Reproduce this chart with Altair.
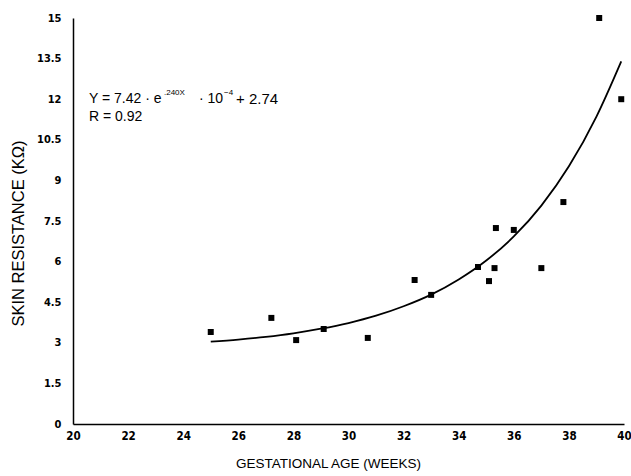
import altair as alt
import pandas as pd

# Measured data points (gestational age in weeks, skin resistance in kOhm)
weeks = [25.0, 27.2, 28.1, 29.1, 30.7, 32.4, 33.0, 34.7, 35.1, 35.3, 35.35, 36.0, 37.0, 37.8, 39.1, 39.9]
resistance = [3.40, 3.92, 3.10, 3.51, 3.18, 5.32, 4.77, 5.80, 5.28, 5.76, 7.24, 7.17, 5.76, 8.20, 15.0, 12.0]

# Fitted curve
fit_weeks = [25, 26, 27, 28, 29, 30, 31, 32, 33, 34, 35, 36, 37, 38, 39, 39.9]
fit_values = [3.04, 3.12, 3.22, 3.35, 3.52, 3.73, 4.00, 4.35, 4.78, 5.34, 6.04, 6.93, 8.07, 9.52, 11.36, 13.4]

x_ticks = [20, 22, 24, 26, 28, 30, 32, 34, 36, 38, 40]
y_ticks = [0, 1.5, 3, 4.5, 6, 7.5, 9, 10.5, 12, 13.5, 15]

x_title = "GESTATIONAL AGE (WEEKS)"
y_title = "SKIN RESISTANCE (KΩ)"

eq_main = "Y = 7.42 · e"
eq_exp = ".240X"
eq_mid = "· 10"
eq_exp2 = "−4"
eq_end = "+ 2.74"
r_text = "R = 0.92"

pts = pd.DataFrame({"weeks": weeks, "res": resistance})
fit = pd.DataFrame({"weeks": fit_weeks, "res": fit_values})
anno = pd.DataFrame({"weeks": [20.58], "l1": [12.0], "l2": [11.35]})

LABEL_FONT = "Liberation Sans Narrow, DejaVu Sans Condensed, Liberation Sans"
TEXT_FONT = "Liberation Sans"

xs = alt.Scale(domain=[20, 40], nice=False, zero=False)
ys = alt.Scale(domain=[0, 15], nice=False)

x_axis = alt.Axis(
    values=x_ticks, title=x_title, grid=False, ticks=False, labelFlush=False,
    labelOverlap=False, labelPadding=6, labelFont=LABEL_FONT, labelFontWeight="bold",
    labelFontSize=11.5, labelColor="black", domainColor="black", domainWidth=1.5,
    titleFont=TEXT_FONT, titleFontSize=13.5, titleFontWeight="normal", titleColor="black",
    titleX=255, titleY=39, titleAnchor="middle", titleAlign="center", titleBaseline="middle",
)
y_axis = alt.Axis(
    values=y_ticks, title=y_title, grid=False, ticks=False, labelFlush=False,
    labelOverlap=False, labelPadding=12, labelFont=LABEL_FONT, labelFontWeight="bold",
    labelFontSize=11, labelColor="black", domainColor="black", domainWidth=1.5,
    labelExpr="format(datum.value, '.1~f')",
    titleFont=TEXT_FONT, titleFontSize=16.5, titleFontWeight="normal", titleColor="black",
    titleX=-55, titleY=215, titleAngle=-90, titleAlign="center", titleBaseline="middle",
)

points = alt.Chart(pts).mark_point(shape="square", filled=True, size=36, color="black", opacity=1).encode(
    x=alt.X("weeks:Q", scale=xs, axis=x_axis),
    y=alt.Y("res:Q", scale=ys, axis=y_axis),
)

curve = alt.Chart(fit).mark_line(color="black", strokeWidth=1.8, interpolate="monotone").encode(
    x=alt.X("weeks:Q", scale=xs),
    y=alt.Y("res:Q", scale=ys),
)

def txt(field, text, dx, size, dy=0):
    return alt.Chart(anno).mark_text(
        text=text, align="left", baseline="middle", dx=dx, dy=dy,
        fontSize=size, font=TEXT_FONT, color="black",
    ).encode(x=alt.X("weeks:Q", scale=xs), y=alt.Y(f"{field}:Q", scale=ys))

annotation = (
    txt("l1", eq_main, 0, 14)
    + txt("l1", eq_exp, 75, 8, -6)
    + txt("l1", eq_mid, 110, 14)
    + txt("l1", eq_exp2, 135, 8, -6)
    + txt("l1", eq_end, 147, 15)
    + txt("l2", r_text, 0, 14)
)

chart = alt.layer(curve, points, annotation).properties(
    width=551, height=406,
    autosize=alt.AutoSizeParams(type="none"),
    padding={"left": 73, "top": 18, "right": 7, "bottom": 52},
    background="white",
).configure_view(stroke=None)

chart.save("out.html", embed_options={"renderer": "svg", "actions": False})
